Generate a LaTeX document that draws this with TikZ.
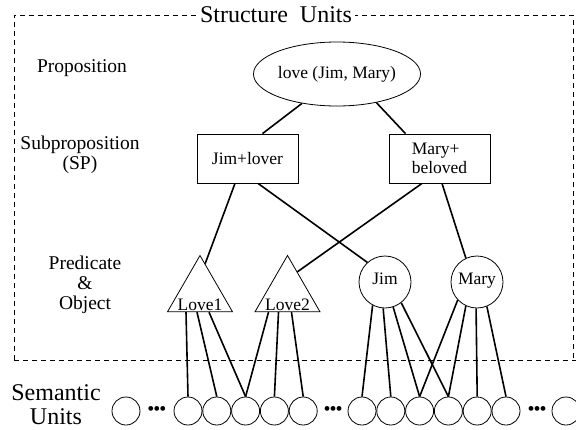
\documentclass[tikz,border=0pt]{standalone}
\usepackage{fontspec}
\setmainfont{Liberation Serif}
\usetikzlibrary{positioning,shapes.geometric}

\begin{document}
\begin{tikzpicture}[x=1pt, y=-1pt, node distance=0pt,
    every node/.style={font=\fontsize{17.5}{19}\selectfont},
    link/.style={line width=1.6pt},
    frame/.style={thick, dash pattern=on 5pt off 4pt},
    level/.style={font=\fontsize{19.5}{20}\selectfont, align=center},
    prop/.style={ellipse, draw, thick, minimum width=124pt, minimum height=64pt, inner sep=0pt},
    sp/.style={rectangle, draw, thick, minimum width=101pt, minimum height=49pt, inner sep=0pt},
    pred/.style={regular polygon, regular polygon sides=3, draw, thick, minimum size=75pt, inner sep=0pt},
    obj/.style={circle, draw, thick, minimum size=52pt, inner sep=0pt, text height=1.6ex, text depth=0.4ex},
    unit/.style={circle, draw, thick, minimum size=28pt, inner sep=0pt},
    dots/.style={font=\fontsize{20}{20}\selectfont, inner sep=0pt}]
    \useasboundingbox (0,0) rectangle (576,429);

    % structure units frame
    \draw[frame] (14,360) -- (14,15) -- (573,15) -- (573,360);
    \draw[frame] (14,360) -- (576,360);
    \node[fill=white, font=\fontsize{24}{26}\selectfont] (title) at (276,15) {Structure\enspace Units};

    % level names
    \node[level] (lprop) at (82,68) {Proposition};
    \node[level] (lsp) at (80,155) {Subproposition\\(SP)};
    \node[level] (lpred) at (85,285) {Predicate\\\&\\Object};
    \node[font=\fontsize{24}{24}\selectfont, align=center] (lsem) at (56,405) {Semantic\\Units};

    \node[prop] (p) at (337,74) {love (Jim, Mary)};
    \node[sp] (jl) at (247.5,158.5) {Jim+lover};
    \node[sp, align=left] (mb) at (439.5,158.5) {Mary+\\beloved};
    \node[pred, label={[anchor=south, inner sep=1pt]south:Love1}] (love1) at (200,293) {};
    \node[pred, label={[anchor=south, inner sep=1pt]south:Love2}] (love2) at (287.5,293) {};
    \node[obj] (jim) at (385,282) {Jim};
    \node[obj] (mary) at (477,282) {Mary};

    % semantic units
    \node[unit] (s0) at (126,411) {};
    \node[unit] (s1) at (188,411) {};
    \node[unit, right=of s1] (s2) {};
    \node[unit, right=of s2] (s3) {};
    \node[unit, right=of s3] (s4) {};
    \node[unit, right=of s4] (s5) {};
    \node[unit] (s6) at (362,411) {};
    \node[unit, right=of s6] (s7) {};
    \node[unit, right=of s7] (s8) {};
    \node[unit, right=of s8] (s9) {};
    \node[unit, right=of s9] (s10) {};
    \node[unit, right=of s10] (s11) {};
    \node[unit] (s12) at (566,411) {};
    \node[dots] (d1) at (157,411) {\textbullet\kern-1pt\textbullet\kern-1pt\textbullet};
    \node[dots] (d2) at (333,411) {\textbullet\kern-1pt\textbullet\kern-1pt\textbullet};
    \node[dots] (d3) at (537,411) {\textbullet\kern-1pt\textbullet\kern-1pt\textbullet};

    \draw[link] (p.220) -- ([xshift=15pt]jl.north);
    \draw[link] (p.324) -- ([xshift=-34pt]mb.north);
    \draw[link] ([xshift=-12.5pt]jl.south) -- (love1.80);
    \draw[link] ([xshift=10.5pt]jl.south) -- (jim.132);
    \draw[link] ([xshift=-17.5pt]mb.south) -- (love2.65);
    \draw[link] ([xshift=2.5pt]mb.south) -- (mary.115);

    \draw[link] ([xshift=-14pt]love1.south) -- (s1.north);
    \draw[link] ([xshift=-3pt]love1.south) -- (s2.north);
    \draw[link] ([xshift=9pt]love1.south) -- (s3.north);
    \draw[link] ([xshift=-19pt]love2.south) -- (s3.north);
    \draw[link] ([xshift=-9pt]love2.south) -- (s4.north);
    \draw[link] ([xshift=4pt]love2.south) -- (s5.north);
    \draw[link] (jim.242) -- (s6.north);
    \draw[link] (jim.266) -- (s7.north);
    \draw[link] (jim.288) -- (s8.north);
    \draw[link] (jim.308) -- (s9.north);
    \draw[link] (mary.223) -- (s8.north);
    \draw[link] (mary.245) -- (s9.north);
    \draw[link] (mary.268) -- (s10.north);
    \draw[link] (mary.292) -- (s11.north);
\end{tikzpicture}
\end{document}
